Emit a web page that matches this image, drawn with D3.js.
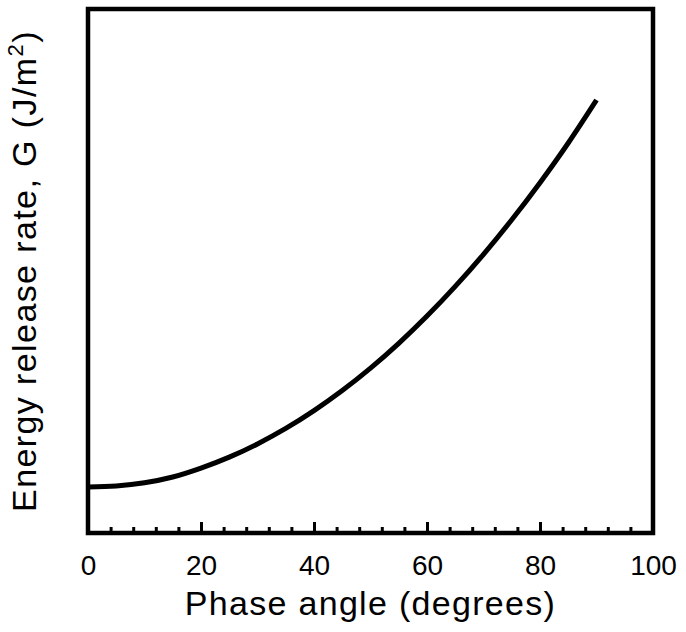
<!DOCTYPE html>
<html>
<head>
<meta charset="utf-8">
<script src="https://cdn.jsdelivr.net/npm/d3@7"></script>
<style>
html,body{margin:0;padding:0;background:#fff;}
svg{display:block;}
text{font-family:"Liberation Sans",Arial,sans-serif;fill:#000;}
</style>
</head>
<body>
<svg id="chart" width="686" height="632"></svg>
<script>
// Data (G in arbitrary units)
const phaseAngle = [0,5,10,15,20,25,30,35,40,45,50,55,60,65,70,75,80,85,90];
const energyG    = [0.878,0.898,0.958,1.068,1.238,1.448,1.700,1.995,2.335,2.718,3.146,3.620,4.140,4.706,5.318,5.977,6.685,7.443,8.263];
const xMajorTicks = [0,20,40,60,80,100];
const xMinorTicks = d3.range(0,101,4).filter(v => v % 20 !== 0);

const svg = d3.select("#chart");
const L = 88, R = 653, T = 9, B = 533;

const x = d3.scaleLinear().domain([0,100]).range([L,R]);
const y = d3.scaleLinear().domain([0,10]).range([B,T]);

// minor ticks
svg.append("g").attr("transform",`translate(0,${B})`)
  .call(d3.axisTop(x).tickValues(xMinorTicks).tickSize(6).tickFormat(""))
  .call(g=>g.select(".domain").remove())
  .call(g=>g.selectAll("line").attr("stroke","#000").attr("stroke-width",3));
// major ticks
svg.append("g").attr("transform",`translate(0,${B})`)
  .call(d3.axisTop(x).tickValues(xMajorTicks).tickSize(11).tickFormat(""))
  .call(g=>g.select(".domain").remove())
  .call(g=>g.selectAll("line").attr("stroke","#000").attr("stroke-width",3));
// tick labels
svg.append("g").attr("transform",`translate(0,${B})`)
  .call(d3.axisBottom(x).tickValues(xMajorTicks).tickSize(0).tickPadding(0).tickFormat(d3.format("d")))
  .call(g=>g.select(".domain").remove())
  .call(g=>g.selectAll("text").attr("y",42).attr("dy",null)
      .style("font-family","'Liberation Sans',Arial,sans-serif").style("font-size","28px"));

// frame
svg.append("rect").attr("x",L).attr("y",T).attr("width",R-L).attr("height",B-T)
  .attr("fill","none").attr("stroke","#000").attr("stroke-width",4.5);

// curve
const line = d3.line().x((d,i)=>x(phaseAngle[i])).y(d=>y(d)).curve(d3.curveMonotoneX);
svg.append("path").datum(energyG).attr("d",line)
  .attr("fill","none").attr("stroke","#000").attr("stroke-width",5);

// axis titles
svg.append("text").attr("x",(L+R)/2).attr("y",615).attr("text-anchor","middle")
  .style("font-size","34px").style("letter-spacing","1.3px").text("Phase angle (degrees)");

const yl = svg.append("text").attr("transform",`translate(36,${(T+B)/2}) rotate(-90)`)
  .attr("text-anchor","middle").style("font-size","34px").style("letter-spacing","1.4px");
yl.append("tspan").text("Energy release rate, G (J/m");
yl.append("tspan").attr("dy",-13).style("font-size","22px").text("2");
yl.append("tspan").attr("dy",13).text(")");
</script>
</body>
</html>
